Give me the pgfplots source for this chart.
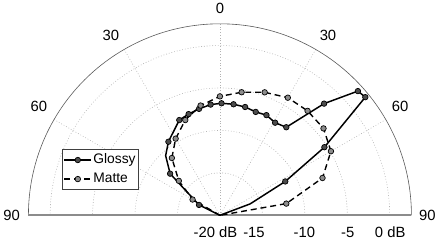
\documentclass[border=0pt]{standalone}
\usepackage{fontspec}
\setmainfont{Liberation Sans}
\usepackage{pgfplots}
\usepackage{pgfplotstable}
\pgfplotsset{compat=1.18}

% angle (deg from vertical), level (dB)
\pgfplotstableread{
ang db
-90 -20
-63.6 -17.25
-50.1 -12.35
-42.3 -10.50
-35.0 -9.42
-23.1 -7.80
-17.2 -7.52
-11.1 -7.22
-4.8 -6.91
0.8 -6.80
7.0 -6.82
13.1 -6.90
19.1 -7.11
24.9 -6.99
30.8 -7.30
37.0 -7.01
43.0 -2.01
48.0 1.87
50.9 2.07
56.9 -5.31
62.6 -11.33
69.3 -16.20
90 -20
}\glossy

\pgfplotstableread{
ang db
-90 -20
-60 -16.28
-50 -13.68
-40 -11.19
-30 -9.57
-20 -8.06
-10 -6.87
0 -5.99
10 -5.28
20 -4.58
30 -4.00
40 -3.94
50 -4.07
60 -4.90
70 -7.14
80 -12.06
90 -20
}\matte

\begin{document}
\begin{tikzpicture}[font=\fontsize{15}{18}\selectfont]
\begin{axis}[
  x=8.6pt, y=8.6pt,
  xmin=-25.523, xmax=25.523, ymin=-2.965, ymax=25.174,
  hide axis, clip=false, scale only axis,
  legend style={at={(axis cs:-18.55,7.81)}, anchor=north west,
    draw=black!75, line width=0.6pt, fill=white,
    font=\fontsize{14}{17}\selectfont,
    inner xsep=1pt, inner ysep=1.2pt,
    nodes={inner xsep=1.5pt, inner ysep=2.9pt, text height=10.5pt, text depth=3pt},
    row sep=0pt, column sep=0pt},
  legend cell align=left,
  legend image code/.code={\draw[mark repeat=2,mark phase=2,#1] plot coordinates {(0pt,0pt) (13.5pt,0pt) (27pt,0pt)};},
]
\path (axis cs:-25.523,-2.965) rectangle (axis cs:25.523,25.174);
% grid rings
\pgfplotsinvokeforeach{5,10,15,20}{
  \draw[black!30, line width=0.6pt, dash pattern=on 0.8pt off 2pt] (axis cs:#1,0) arc[start angle=0,end angle=180,radius=#1*8.6pt];
}
% spokes
\pgfplotsinvokeforeach{-60,-30,0,30,60}{
  \draw[black!30, line width=0.6pt, dash pattern=on 0.8pt off 2pt] (axis cs:0,0) -- (axis cs:{22.56*sin(#1)},{22.56*cos(#1)});
}
% outer arc
\draw[black!65, line width=0.6pt] (axis cs:22.56,0) arc[start angle=0,end angle=180,radius=22.56*8.6pt];
% baseline
\draw[black!45, line width=2pt] (axis cs:-22.56,0) -- (axis cs:22.56,0);

% data
\addplot[black, line width=1.5pt, mark=*, mark size=2.8pt,
  mark options={solid, fill=black!70, line width=0.7pt},
  mark indices={2,3,5,6,7,8,9,10,11,12,13,14,15,16,17,18,19,20,21}, forget plot]
  table[x expr={(\thisrow{db}+20)*sin(\thisrow{ang})}, y expr={(\thisrow{db}+20)*cos(\thisrow{ang})}] {\glossy};
\addplot[black, line width=1.4pt, dash pattern=on 6pt off 4pt, mark=*, mark size=2.8pt,
  mark options={solid, fill=black!45, line width=0.7pt},
  mark indices={2,3,4,5,6,7,8,9,10,11,12,13,14,15,16}, forget plot]
  table[x expr={(\thisrow{db}+20)*sin(\thisrow{ang})}, y expr={(\thisrow{db}+20)*cos(\thisrow{ang})}] {\matte};

\addlegendimage{black, line width=1.5pt, mark=*, mark size=2.8pt, mark options={solid, fill=black!70, line width=0.7pt}}
\addlegendentry{Glossy}
\addlegendimage{black, line width=1.4pt, dash pattern=on 6pt off 4pt, mark=*, mark size=2.8pt, mark options={solid, fill=black!45, line width=0.7pt}}
\addlegendentry{Matte}

% angle labels
\node at (axis cs:0,24.36) {0};
\node at (axis cs:-12.85,21.22) {30};
\node at (axis cs:12.73,21.22) {30};
\node at (axis cs:-21.34,12.85) {60};
\node at (axis cs:21.22,12.85) {60};
\node at (axis cs:-24.55,-0.06) {90};
\node at (axis cs:24.45,-0.06) {90};
% radial labels
\node at (axis cs:-0.52,-2.03) {-20 dB};
\node at (axis cs:4.01,-2.03) {-15};
\node at (axis cs:9.94,-2.03) {-10};
\node at (axis cs:15.06,-2.03) {-5};
\node at (axis cs:20.06,-2.03) {0 dB};
\end{axis}
\end{tikzpicture}
\end{document}
